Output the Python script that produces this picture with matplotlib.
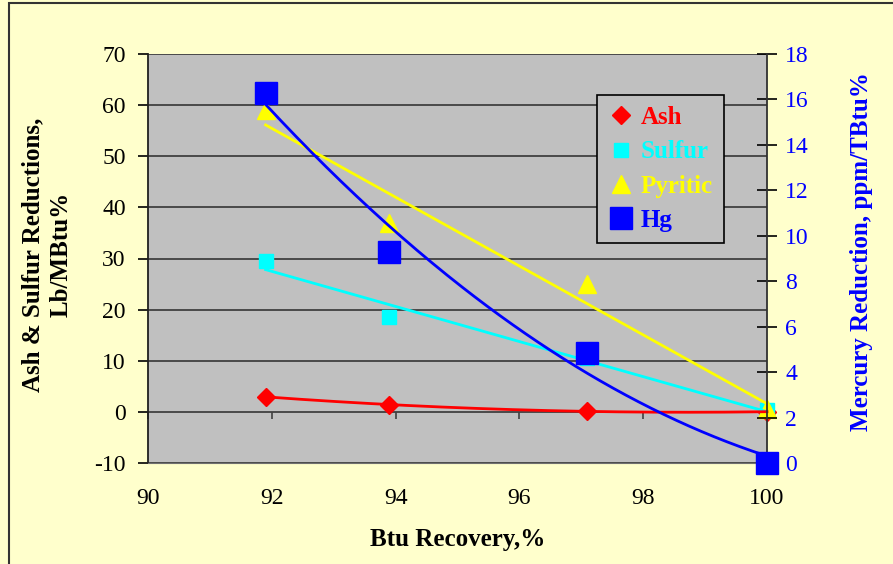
import numpy as np
import matplotlib.pyplot as plt
from matplotlib.lines import Line2D
from matplotlib.patches import Rectangle

# Values
btu = [91.9, 93.9, 97.1, 100.0]
ash = [3.0, 1.3, 0.2, 0.0]
sulfur = [29.5, 18.5, 10.5, 0.3]
pyritic = [59.0, 37.0, 25.0, 0.5]
hg = [16.3, 9.3, 4.85, 0.0]

x_ticks = [90, 92, 94, 96, 98, 100]
left_ticks = [-10, 0, 10, 20, 30, 40, 50, 60, 70]
right_ticks = [0, 2, 4, 6, 8, 10, 12, 14, 16, 18]

plt.rcParams['font.family'] = 'Liberation Serif'
plt.rcParams['axes.unicode_minus'] = False

W, H = 893, 564
fig = plt.figure(figsize=(W / 100, H / 100), dpi=100, facecolor='#FFFFCC')
fig.patches.append(Rectangle((9 / W, -0.1), 1.0, 1.1 - 3 / H, transform=fig.transFigure,
                             fill=False, edgecolor='#333333', lw=1.5))

ax = fig.add_axes([148 / W, 101 / H, 619 / W, 409 / H])
ax.set_facecolor('#C0C0C0')
ax.set_xlim(90, 100)
ax.set_ylim(-10, 70)
ax.set_xticks(x_ticks)
ax.set_yticks(left_ticks)
ax.grid(axis='y', color='#404040', lw=1.3)
ax.set_axisbelow(True)

for s in ['top', 'right']:
    ax.spines[s].set_visible(False)
ax.spines['bottom'].set_color('#707070')
ax.spines['left'].set_color('#202020')
ax.spines['left'].set_linewidth(1.3)

ax.tick_params(axis='x', length=0, pad=18, labelsize=17)
ax.tick_params(axis='y', direction='out', length=7, width=1.2, pad=9, labelsize=17)

# x axis line crossing at y=0
sec = ax.secondary_xaxis(10 / 80)
sec.set_xticks(x_ticks)
sec.tick_params(axis='x', direction='out', length=5, width=1.2, labelbottom=False,
                labeltop=False, color='#404040')
sec.spines['bottom'].set_visible(False)

xs = np.linspace(btu[0], btu[-1], 200)

ax.plot(btu, ash, 'D', color='red', ms=9, ls='none', zorder=3, clip_on=False)
ax.plot(btu, sulfur, 's', color='cyan', ms=10, ls='none', zorder=3, clip_on=False)
ax.plot(btu, pyritic, '^', color='yellow', ms=13, ls='none', zorder=3, clip_on=False)

ax.plot(xs, np.polyval(np.polyfit(btu, pyritic, 1), xs), color='yellow', lw=2, zorder=4)
ax.plot(xs, np.polyval(np.polyfit(btu, sulfur, 1), xs), color='cyan', lw=2, zorder=4)
ax.plot(xs, np.polyval(np.polyfit(btu, ash, 2), xs), color='red', lw=2, zorder=4,
        clip_on=False)

ax.set_xlabel('Btu Recovery,%', fontsize=18, fontweight='bold')
ax.xaxis.set_label_coords(0.5, -0.158)
ax.set_ylabel('Ash & Sulfur Reductions,\nLb/MBtu%', fontsize=18, fontweight='bold',
              linespacing=1.3)
ax.yaxis.set_label_coords(-0.122, 0.509)

ax2 = ax.twinx()
ax2.set_ylim(0, 18)
ax2.set_yticks(right_ticks)
ax2.patch.set_visible(False)
for s in ['top', 'left', 'bottom']:
    ax2.spines[s].set_visible(False)
ax2.spines['right'].set_color('#303030')
ax2.spines['right'].set_linewidth(1.3)
ax2.tick_params(axis='y', direction='inout', length=14, width=1.2, pad=6,
                labelsize=17, labelcolor='blue')

ax2.plot(btu, hg, 's', color='blue', ms=16, ls='none', zorder=3, clip_on=False)
ax2.plot(xs, np.polyval(np.polyfit(btu, hg, 2), xs), color='blue', lw=2, zorder=4)

ax2.set_ylabel('Mercury Reduction, ppm/TBtu%', fontsize=18, fontweight='bold',
               color='blue')
ax2.yaxis.set_label_coords(1.134, 0.518)

handles = [
    Line2D([], [], marker='D', color='red', ms=9, ls='none'),
    Line2D([], [], marker='s', color='cyan', ms=10, ls='none'),
    Line2D([], [], marker='^', color='yellow', ms=13, ls='none'),
    Line2D([], [], marker='s', color='blue', ms=16, ls='none'),
]
leg = ax2.legend(handles, ['Ash', 'Sulfur', 'Pyritic', 'Hg'],
                 loc='upper left', bbox_to_anchor=(0.725, 0.90), borderaxespad=0,
                 fancybox=False, edgecolor='black', facecolor='#C0C0C0', framealpha=1,
                 prop={'weight': 'bold', 'size': 18}, labelspacing=0.45,
                 handlelength=1.0, handletextpad=0.3, borderpad=0.45,
                 labelcolor=['red', 'cyan', 'yellow', 'blue'])
leg.get_frame().set_linewidth(1.2)

fig.savefig('out.png', dpi=100, facecolor=fig.get_facecolor())
